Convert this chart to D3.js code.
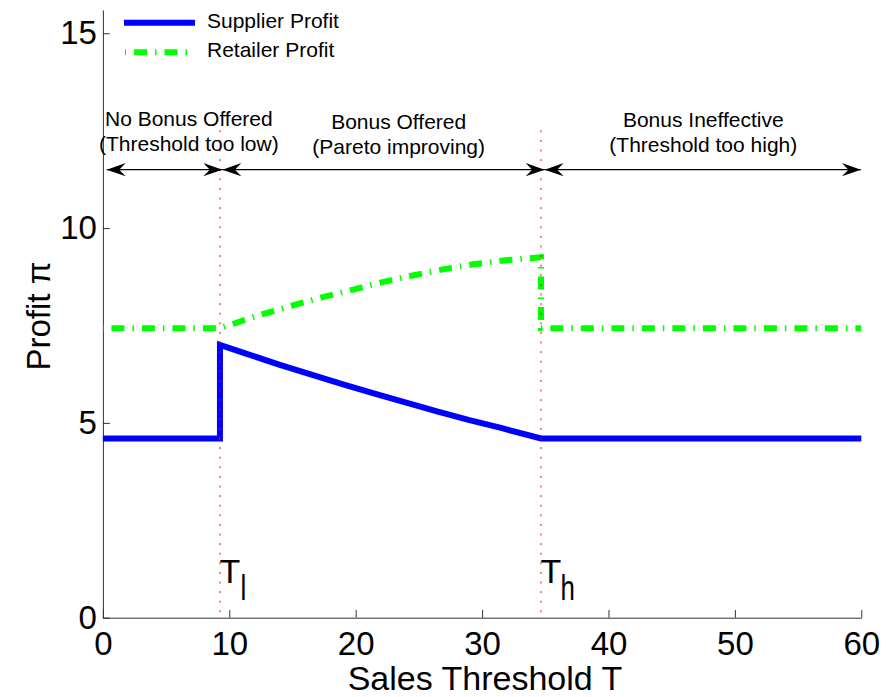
<!DOCTYPE html>
<html><head><meta charset="utf-8">
<script src="https://cdn.jsdelivr.net/npm/d3@7"></script>
<style>
html,body{margin:0;padding:0;background:#fff;}
svg{display:block;font-family:"Liberation Sans",Arial,Helvetica,sans-serif;}
</style></head><body>
<svg id="chart" width="886" height="697"></svg>
<script>
// ---------- data ----------
const xTicks = [0, 10, 20, 30, 40, 50, 60];
const yTicks = [0, 5, 10, 15];
const thresholdLow = 9.26;
const thresholdHigh = 34.66;

const supplierT      = [0, 9.26, 9.26, 11.5, 14, 16.5, 19, 21.5, 24, 26.5, 29, 31.5, 34.66, 60];
const supplierProfit = [4.60, 4.60, 7.00, 6.76, 6.49, 6.24, 5.99, 5.75, 5.52, 5.29, 5.07, 4.87, 4.60, 4.60];

const retailerT      = [0, 9.26, 12.7, 15.1, 17.4, 19.8, 22.2, 24.6, 26.9, 29.3, 31.7, 34.2, 34.66, 34.66, 60];
const retailerProfit = [7.43, 7.43, 7.80, 8.02, 8.23, 8.42, 8.62, 8.79, 8.94, 9.07, 9.17, 9.24, 9.25, 7.43, 7.43];

const seriesNames = ["Supplier Profit", "Retailer Profit"];

const regionLine1 = ["No Bonus Offered", "Bonus Offered", "Bonus Ineffective"];
const regionLine2 = ["(Threshold too low)", "(Pareto improving)", "(Threshold too high)"];
const regionLabelT = [6.8, 23.4, 47.5];
const regionLabelY = [12.62, 12.54, 12.59];
const arrowBreaks = [0.3, 9.45, 34.95, 59.97];
const arrowLevel = 11.5;
const markerTop = 12.51;

// ---------- layout ----------
const svg = d3.select("#chart");
const W = 886, H = 697;
const margin = {left: 102.9, right: W - 861.3, top: 9.9, bottom: H - 617.7};

const x = d3.scaleLinear().domain([0, 60]).range([margin.left, W - margin.right]);
const y = d3.scaleLinear().domain([0, 15.6]).range([H - margin.bottom, margin.top]);

const BLUE = "#0000ff", GREEN = "#00ff00";

// ---------- axes ----------
const gx = svg.append("g")
  .attr("transform", `translate(0,${y(0)})`)
  .call(d3.axisBottom(x).tickValues(xTicks).tickSizeInner(-7.7).tickSizeOuter(0).tickPadding(14));
const gy = svg.append("g")
  .attr("transform", `translate(${x(0)},0)`)
  .call(d3.axisLeft(y).tickValues(yTicks).tickSizeInner(-7).tickSizeOuter(0).tickPadding(6));
[gx, gy].forEach(g => {
  g.attr("font-family", null).attr("font-size", null);
  g.selectAll(".domain").attr("stroke", "#333").attr("stroke-width", 1);
  g.selectAll(".tick line").attr("stroke", "#333").attr("stroke-width", 1);
  g.selectAll(".tick text").attr("fill", "#000").style("font-size", "33px");
});

svg.append("text")
  .attr("x", 485).attr("y", 690)
  .attr("text-anchor", "middle")
  .style("font-size", "34px")
  .text("Sales Threshold T");

svg.append("text")
  .attr("transform", "translate(50,316) rotate(-90)")
  .attr("text-anchor", "middle")
  .style("font-size", "33px")
  .text("Profit \u03c0");

// ---------- curves ----------
const line = d3.line().x(d => x(d[0])).y(d => y(d[1]));
const supplierData = supplierT.map((t, i) => [t, supplierProfit[i]]);
const retailerData = retailerT.map((t, i) => [t, retailerProfit[i]]);

svg.append("path")
  .attr("d", line(retailerData))
  .attr("fill", "none")
  .attr("stroke", GREEN)
  .attr("stroke-width", 6)
  .attr("stroke-dasharray", "13,8,1.5,8")
  .attr("stroke-dashoffset", 22)
  .attr("stroke-linejoin", "miter");

svg.append("path")
  .attr("d", line(supplierData))
  .attr("fill", "none")
  .attr("stroke", BLUE)
  .attr("stroke-width", 6)
  .attr("stroke-linejoin", "miter");

// ---------- threshold markers ----------
[thresholdLow, thresholdHigh].forEach(t => {
  svg.append("line")
    .attr("x1", x(t)).attr("x2", x(t))
    .attr("y1", y(markerTop)).attr("y2", y(0))
    .attr("stroke", "#ff0000")
    .attr("stroke-width", 1)
    .attr("stroke-dasharray", "2,7.6");
});

// T_l and T_h labels
const tLabels = [{t: thresholdLow, sub: "l", dx: 21}, {t: thresholdHigh, sub: "h", dx: 20}];
tLabels.forEach(d => {
  const bx = x(d.t) - 0.4;
  svg.append("text").attr("x", bx).attr("y", 582.7).style("font-size", "34px").text("T");
  svg.append("text")
    .attr("transform", `translate(${bx + d.dx},600) scale(0.74,1)`)
    .style("font-size", "35px").text(d.sub);
});

// ---------- region arrows ----------
function arrowHead(tipX, tipY, dir) {
  const L = 19, w = 6.7, n = 12.5;
  return `M${tipX},${tipY}L${tipX - dir * L},${tipY - w}L${tipX - dir * n},${tipY}L${tipX - dir * L},${tipY + w}Z`;
}
const ay = y(arrowLevel);
for (let i = 0; i < 3; i++) {
  const x1 = x(arrowBreaks[i]), x2 = x(arrowBreaks[i + 1]);
  svg.append("line").attr("x1", x1).attr("x2", x2).attr("y1", ay).attr("y2", ay)
    .attr("stroke", "#000").attr("stroke-width", 1.2);
  svg.append("path").attr("d", arrowHead(x1, ay, -1)).attr("fill", "#000");
  svg.append("path").attr("d", arrowHead(x2, ay, 1)).attr("fill", "#000");
}

// region labels
regionLine1.forEach((s, i) => {
  const cx = x(regionLabelT[i]), by = y(regionLabelY[i]);
  svg.append("text").attr("x", cx).attr("y", by).attr("text-anchor", "middle")
    .style("font-size", "21px").text(s);
  svg.append("text").attr("x", cx).attr("y", by + 25).attr("text-anchor", "middle")
    .style("font-size", "21px").text(regionLine2[i]);
});

// ---------- legend ----------
const leg = svg.append("g");
leg.append("line").attr("x1", 124).attr("x2", 195).attr("y1", 22.7).attr("y2", 22.7)
  .attr("stroke", BLUE).attr("stroke-width", 6);
leg.append("text").attr("x", 207).attr("y", 28.3).style("font-size", "21px").text(seriesNames[0]);
leg.append("line").attr("x1", 125).attr("x2", 189).attr("y1", 52.3).attr("y2", 52.3)
  .attr("stroke", GREEN).attr("stroke-width", 6)
  .attr("stroke-dasharray", "13,8,1.5,8").attr("stroke-dashoffset", 21.5);
leg.append("text").attr("x", 207).attr("y", 56.7).style("font-size", "21px").text(seriesNames[1]);
</script>
</body></html>
